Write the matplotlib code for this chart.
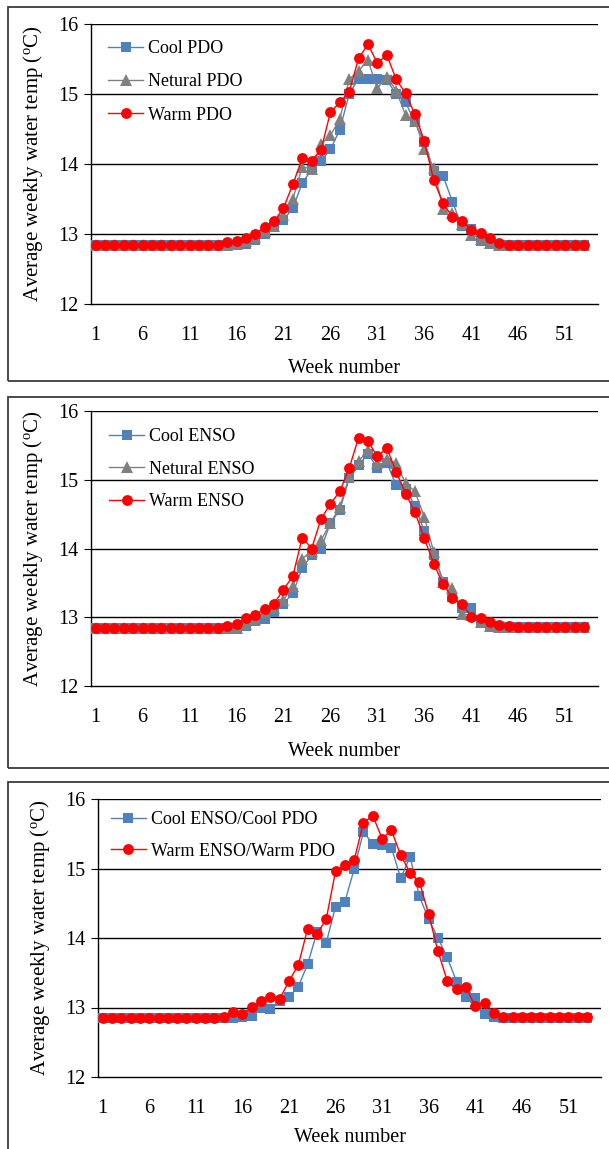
import matplotlib
matplotlib.use("Agg")
import matplotlib.pyplot as plt
from matplotlib.patches import Rectangle
import numpy as np

# ---- data: average weekly water temperature (deg C) by week of year ----
weeks = np.arange(1, 54)
week_ticks = [1, 6, 11, 16, 21, 26, 31, 36, 41, 46, 51]

cool_pdo = [12.85] * 16 + [12.86, 12.92, 13.00, 13.10, 13.20, 13.37, 13.73, 13.92, 14.04, 14.21,
                           14.49, 15.00, 15.22, 15.22, 15.21, 15.20, 15.00, 14.88, 14.60, 14.32,
                           13.90, 13.83, 13.46, 13.11, 13.07, 12.90, 12.87] + [12.85] * 10
netural_pdo = [12.85] * 15 + [12.86, 12.90, 12.96, 13.04, 13.12, 13.27, 13.50, 13.96, 13.93, 14.28,
                              14.41, 14.64, 15.21, 15.33, 15.48, 15.08, 15.25, 15.05, 14.70, 14.62,
                              14.22, 13.94, 13.36, 13.30, 13.15, 12.99, 12.93, 12.87] + [12.85] * 10
warm_pdo = [12.84] * 12 + [12.85, 12.85, 12.88, 12.90, 12.95, 13.00, 13.10, 13.18, 13.37, 13.71,
                           14.08, 14.05, 14.20, 14.74, 14.88, 15.03, 15.51, 15.71, 15.44, 15.56,
                           15.21, 15.01, 14.71, 14.33, 13.77, 13.44, 13.24, 13.19, 13.06, 13.02,
                           12.94, 12.87] + [12.85] * 9

cool_enso = [12.85] * 16 + [12.88, 12.95, 12.98, 13.07, 13.20, 13.35, 13.72, 13.90, 14.00, 14.37,
                            14.56, 15.02, 15.21, 15.38, 15.17, 15.25, 14.92, 14.87, 14.62, 14.25,
                            13.90, 13.52, 13.30, 13.14, 13.13, 12.94, 12.88] + [12.86] * 10
netural_enso = [12.85] * 16 + [12.90, 12.97, 13.08, 13.14, 13.25, 13.45, 13.85, 13.97, 14.12, 14.37,
                               14.60, 15.05, 15.27, 15.43, 15.25, 15.30, 15.24, 14.95, 14.83, 14.46,
                               13.95, 13.52, 13.42, 13.05, 13.03, 12.93, 12.88] + [12.86] * 10
warm_enso = [12.85] * 14 + [12.88, 12.90, 12.99, 13.03, 13.12, 13.20, 13.40, 13.60, 14.16, 14.00,
                            14.43, 14.65, 14.83, 15.17, 15.61, 15.56, 15.34, 15.46, 15.12, 14.80,
                            14.53, 14.15, 13.78, 13.48, 13.28, 13.20, 13.01, 12.99, 12.93, 12.89,
                            12.87] + [12.86] * 8

cool_cool = [12.85] * 15 + [12.86, 12.88, 13.00, 12.98, 13.09, 13.15, 13.30, 13.62, 14.08, 13.93,
                            14.45, 14.52, 14.99, 15.53, 15.35, 15.34, 15.30, 14.86, 15.17, 14.60,
                            14.27, 14.00, 13.72, 13.37, 13.15, 13.13, 12.90, 12.87] + [12.85] * 10
warm_warm = [12.85] * 13 + [12.87, 12.93, 12.90, 13.01, 13.09, 13.15, 13.12, 13.38, 13.61, 14.13,
                            14.06, 14.27, 14.96, 15.05, 15.12, 15.66, 15.76, 15.43, 15.55, 15.19,
                            14.94, 14.81, 14.34, 13.81, 13.38, 13.26, 13.29, 13.02, 13.07, 12.92,
                            12.87] + [12.86] * 9

# ---- styling ----
plt.rcParams['font.family'] = ['Liberation Serif', 'DejaVu Serif']
plt.rcParams['mathtext.fontset'] = 'custom'
plt.rcParams['mathtext.rm'] = 'Liberation Serif'
plt.rcParams['mathtext.it'] = 'Liberation Serif:italic'

W, H = 609, 1149
fig = plt.figure(figsize=(W / 100, H / 100), dpi=100)

BLUE = '#4F81BD'
GRAY = '#808080'
RED = '#FF0000'

series_style = {
    'cool': dict(color=BLUE, marker='s', markersize=6.8),
    'neutral': dict(color=GRAY, marker='^', markersize=8.0),
    'warm': dict(color=RED, marker='o', markersize=7.8),
}


def frame(y0, y1):
    fig.add_artist(Rectangle((8 / W, 1 - y1 / H), 1.0, (y1 - y0) / H,
                             transform=fig.transFigure, fill=False,
                             lw=1.3, ec='#3a3a3a'))


def panel(left, right, top, bottom, series, ylab_x, xlab_y, leg_x, leg_y, leg_sp):
    ax = fig.add_axes([left / W, 1 - bottom / H, (right - left) / W, (bottom - top) / H])
    for vals, label, kind in series:
        ax.plot(weeks, vals, lw=1.0, label=label, markeredgewidth=0,
                zorder=3, **series_style[kind])
    ax.set_xlim(0.5, 54.5)
    ax.set_ylim(12, 16)
    ax.set_yticks([12, 13, 14, 15, 16])
    for g in (13, 14, 15, 16):
        ax.axhline(g, color='black', lw=1.0, zorder=1)
    ax.set_xticks(week_ticks)
    ax.tick_params(axis='y', direction='out', length=5, width=0.8, labelsize=14.5, pad=4)
    ax.tick_params(axis='x', length=0, labelsize=14.5, pad=16)
    for s in ('top', 'right'):
        ax.spines[s].set_visible(False)
    for s in ('left', 'bottom'):
        ax.spines[s].set_linewidth(1.0)
        ax.spines[s].set_color('black')
    ax.set_xlabel('Week number', fontsize=14.5, va='center')
    ax.xaxis.set_label_coords(0.5, 1 - (xlab_y - top) / (bottom - top))
    ax.set_ylabel(r'Average weekly water temp ($^{\mathrm{o}}$C)', fontsize=15, va='center')
    ax.yaxis.set_label_coords((ylab_x - left) / (right - left), 0.5)
    ax.legend(loc='upper left', bbox_to_anchor=(leg_x, 1 - leg_y / (bottom - top)),
              frameon=False, fontsize=13, handlelength=1.9, handletextpad=0.3,
              labelspacing=leg_sp, borderaxespad=0.0)
    return ax


frame(7, 381)
panel(91, 598, 24, 304,
      [(cool_pdo, 'Cool PDO', 'cool'),
       (netural_pdo, 'Netural PDO', 'neutral'),
       (warm_pdo, 'Warm PDO', 'warm')],
      ylab_x=33, xlab_y=368, leg_x=0.02, leg_y=9, leg_sp=0.9)

frame(397, 768)
panel(91, 598, 411, 686,
      [(cool_enso, 'Cool ENSO', 'cool'),
       (netural_enso, 'Netural ENSO', 'neutral'),
       (warm_enso, 'Warm ENSO', 'warm')],
      ylab_x=33, xlab_y=752, leg_x=0.022, leg_y=10, leg_sp=0.85)

frame(782, 1200)
panel(98, 601, 799, 1077,
      [(cool_cool, 'Cool ENSO/Cool PDO', 'cool'),
       (warm_warm, 'Warm ENSO/Warm PDO', 'warm')],
      ylab_x=40, xlab_y=1138, leg_x=0.012, leg_y=5, leg_sp=0.8)

fig.savefig('out.png', dpi=100)
